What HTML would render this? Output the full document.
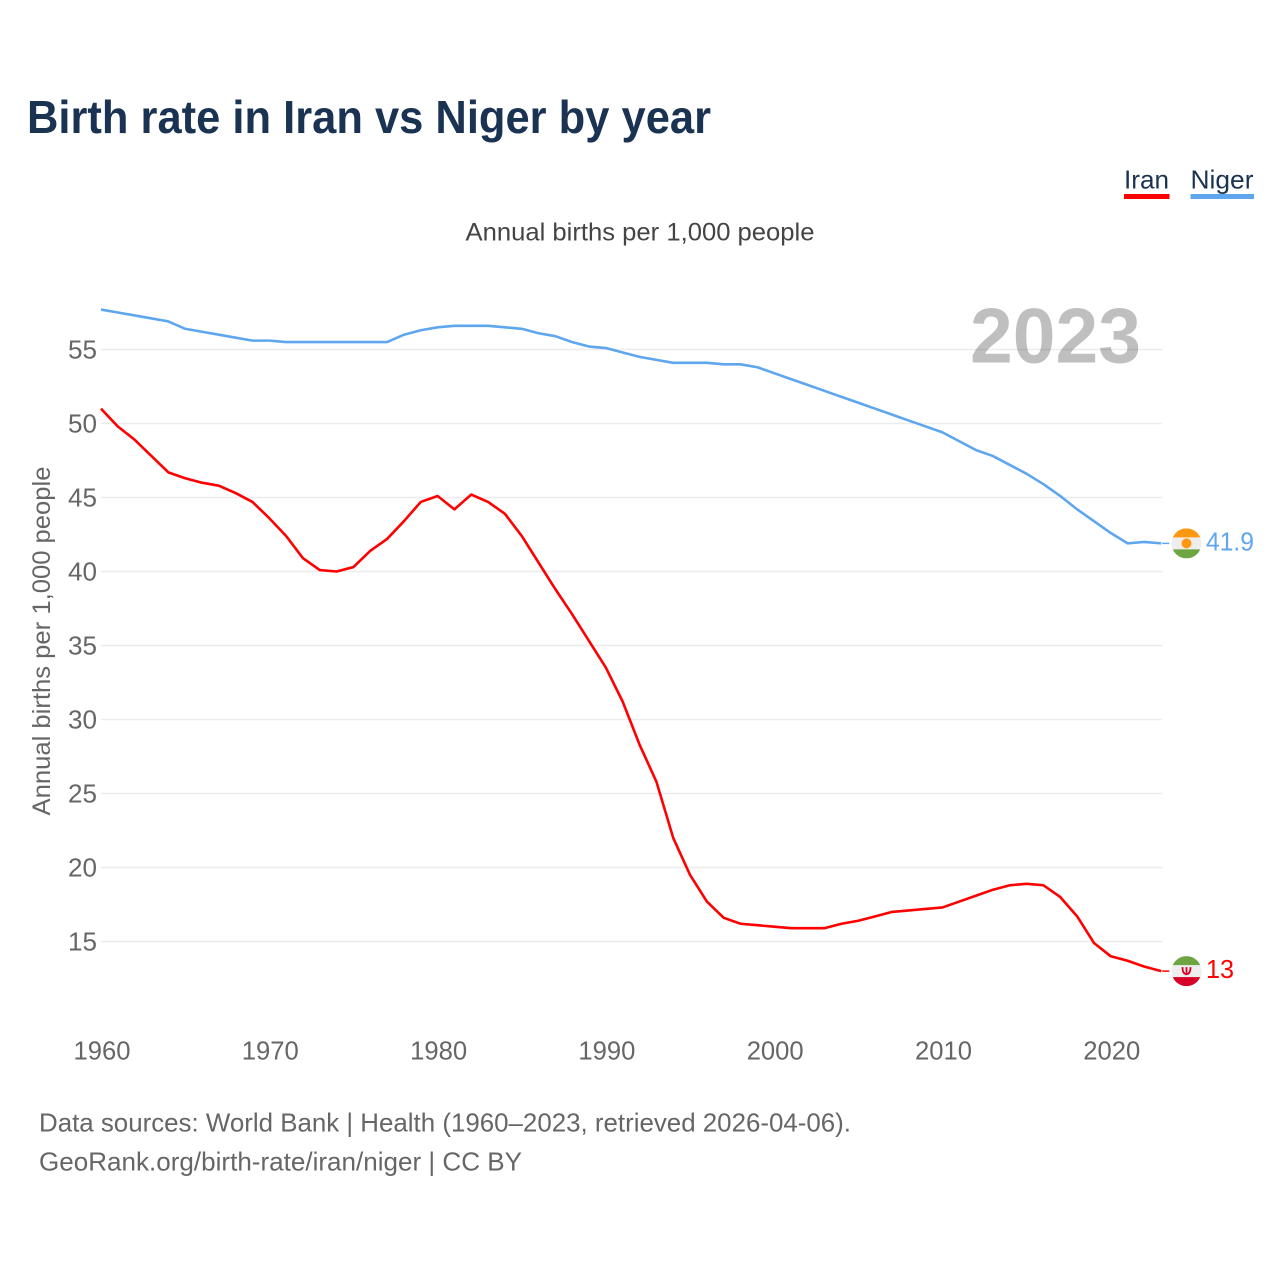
<!DOCTYPE html>
<html>
<head>
<meta charset="utf-8">
<title>Birth rate in Iran vs Niger by year</title>
<style>
html,body{margin:0;padding:0;background:#fff;width:1280px;height:1280px;overflow:hidden}
svg{display:block}
text{font-family:"Liberation Sans",sans-serif}
</style>
</head>
<body>
<svg id="chart" width="1280" height="1280" viewBox="0 0 1280 1280" xmlns="http://www.w3.org/2000/svg">
  <rect width="1280" height="1280" fill="#fff"/>
  <text x="27" y="133" font-size="46" font-weight="700" fill="#1a3352" textLength="684" lengthAdjust="spacingAndGlyphs">Birth rate in Iran vs Niger by year</text>
  <text x="640" y="240.500" font-size="25" fill="#444" text-anchor="middle" textLength="349" lengthAdjust="spacingAndGlyphs">Annual births per 1,000 people</text>
  <g>
    <g>
      <text x="1124" y="188.500" font-size="26" fill="#1a3352" textLength="45" lengthAdjust="spacingAndGlyphs">Iran</text>
      <rect x="1124" y="194" width="45.5" height="5" fill="#ff0000"/>
    </g>
    <g>
      <text x="1190.500" y="188.500" font-size="26" fill="#1a3352" textLength="63" lengthAdjust="spacingAndGlyphs">Niger</text>
      <rect x="1190.500" y="194" width="63.5" height="5" fill="#5ea6ee"/>
    </g>
  </g>
  <g id="grid"></g>
  <text x="1141" y="362.500" font-size="78" font-weight="700" fill="#000" fill-opacity="0.25" text-anchor="end" textLength="171" lengthAdjust="spacingAndGlyphs">2023</text>
  <g id="yticks"></g>
  <g id="xticks"></g>
  <text transform="translate(50,641) rotate(-90)" font-size="25" fill="#666" text-anchor="middle" textLength="349" lengthAdjust="spacingAndGlyphs">Annual births per 1,000 people</text>
  <g id="series"></g>
  <g id="endpoints"></g>
  <g>
    <text x="39" y="1131.500" font-size="26" fill="#666" textLength="812" lengthAdjust="spacingAndGlyphs">Data sources: World Bank | Health (1960–2023, retrieved 2026-04-06).</text>
    <text x="39" y="1170.500" font-size="26" fill="#666" textLength="483" lengthAdjust="spacingAndGlyphs">GeoRank.org/birth-rate/iran/niger | CC BY</text>
  </g>
</svg>
<script>
const startYear = 1960;
const iranValues = [51,49.8,48.9,47.8,46.7,46.3,46,45.8,45.3,44.7,43.6,42.4,40.9,40.1,40,40.3,41.4,42.2,43.4,44.7,45.1,44.2,45.2,44.7,43.9,42.4,40.6,38.8,37.1,35.3,33.5,31.2,28.3,25.8,22,19.5,17.7,16.6,16.2,16.1,16,15.9,15.9,15.9,16.2,16.4,16.7,17,17.1,17.2,17.3,17.7,18.1,18.5,18.8,18.9,18.8,18,16.7,14.9,14,13.7,13.3,13];
const nigerValues = [57.7,57.5,57.3,57.1,56.9,56.4,56.2,56,55.8,55.6,55.6,55.5,55.5,55.5,55.5,55.5,55.5,55.5,56,56.3,56.5,56.6,56.6,56.6,56.5,56.4,56.1,55.9,55.5,55.2,55.1,54.8,54.5,54.3,54.1,54.1,54.1,54,54,53.8,53.4,53,52.6,52.2,51.8,51.4,51,50.6,50.2,49.8,49.4,48.8,48.2,47.8,47.2,46.6,45.9,45.1,44.2,43.4,42.6,41.9,42,41.9];
const yTickValues = [15,20,25,30,35,40,45,50,55];
const xTickValues = [1960,1970,1980,1990,2000,2010,2020];
const iranEndLabel = "13";
const nigerEndLabel = "41.9";

const NS = 'http://www.w3.org/2000/svg';
function xScale(year){ return 101 + (year - 1960) * 16.83; }
function yScale(v){ return 941.5 - (v - 15) * 14.8; }
function make(tag, attrs, parent){
  const el = document.createElementNS(NS, tag);
  for (const k in attrs) el.setAttribute(k, attrs[k]);
  parent.appendChild(el);
  return el;
}
const gridG = document.getElementById('grid');
const yG = document.getElementById('yticks');
const xG = document.getElementById('xticks');
const seriesG = document.getElementById('series');
const endG = document.getElementById('endpoints');

yTickValues.forEach(function(v){
  const line = make('line', {x1:101, x2:1162, y1:yScale(v), y2:yScale(v), stroke:'#ececec', 'stroke-width':1.6}, gridG);
  
  
  const t = make('text', {x:97, y:yScale(v)+9, 'font-size':25.5, fill:'#666', 'text-anchor':'end', textLength:29, lengthAdjust:'spacingAndGlyphs'}, yG);
  
  
  t.textContent = v;
});
xTickValues.forEach(function(y){
  const t = make('text', {x:xScale(y)+1, y:1059.5, 'font-size':26, fill:'#666', 'text-anchor':'middle', textLength:57, lengthAdjust:'spacingAndGlyphs'}, xG);
  
  
  t.textContent = y;
});
function linePath(vals){
  return vals.map(function(v,i){
    return (i ? 'L' : 'M') + xScale(startYear + i).toFixed(2) + ' ' + yScale(v).toFixed(2);
  }).join('');
}
const nigerLine = make('path', {d:linePath(nigerValues), fill:'none', stroke:'#5ea6ee', 'stroke-width':2.6, 'stroke-linejoin':'round'}, seriesG);


const iranLine = make('path', {d:linePath(iranValues), fill:'none', stroke:'#ff0000', 'stroke-width':2.6, 'stroke-linejoin':'round'}, seriesG);



function endMarker(name, value, color, label, top, bottom, labelW){
  const lastX = xScale(startYear + 63);
  const y = yScale(value);
  const g = make('g', {}, endG);
  
  
  const conn = make('line', {x1:lastX+1, x2:lastX+8, y1:y, y2:y, stroke:color, 'stroke-width':1.5}, g);
  
  
  const cx = 1186.5, cy = y, r = 15;
  const clipId = 'clip-' + name;
  const cp = make('clipPath', {id:clipId}, g);
  make('circle', {cx:cx, cy:cy, r:r}, cp);
  const flag = make('g', {'clip-path':'url(#' + clipId + ')'}, g);
  
  
  make('rect', {x:cx-r, y:cy-r, width:2*r, height:2*r, fill:'#eeeeee'}, flag);
  make('rect', {x:cx-r, y:cy-r, width:2*r, height:9, fill:top}, flag);
  make('rect', {x:cx-r, y:cy+6, width:2*r, height:9, fill:bottom}, flag);
  if (name === 'niger') {
    make('circle', {cx:cx, cy:cy, r:5, fill:'#ff9811'}, flag);
  } else {
    make('path', {d:'M'+(cx-4)+' '+(cy-4)+'Q'+(cx-4)+' '+(cy+3)+' '+cx+' '+(cy+3)+'Q'+(cx+4)+' '+(cy+3)+' '+(cx+4)+' '+(cy-4)+'M'+cx+' '+(cy-4)+'V'+(cy+4), fill:'none', stroke:'#d80027', 'stroke-width':1.8}, flag);
  }
  const t = make('text', {x:1206, y:y+7, 'font-size':26, fill:color, textLength:labelW, lengthAdjust:'spacingAndGlyphs'}, g);
  
  
  t.textContent = label;
}
endMarker('niger', nigerValues[nigerValues.length-1], '#5ea6ee', nigerEndLabel, '#ff9811', '#6da544', 48);
endMarker('iran', iranValues[iranValues.length-1], '#ff0000', iranEndLabel, '#6da544', '#d80027', 28);
</script>
</body>
</html>
